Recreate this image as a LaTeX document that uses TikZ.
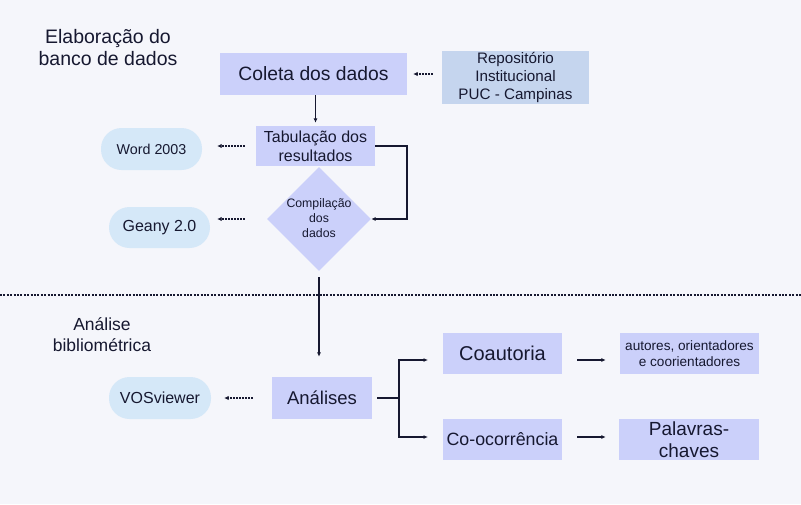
\documentclass[tikz,border=0pt]{standalone}
\usepackage{fontspec}
\setmainfont{Liberation Sans}
\usetikzlibrary{arrows.meta,shapes.geometric,calc}
\definecolor{bgc}{RGB}{245,246,251}
\definecolor{boxc}{RGB}{203,208,250}
\definecolor{repoc}{RGB}{197,213,238}
\definecolor{pillc}{RGB}{213,232,248}
\definecolor{txt}{RGB}{22,24,48}
\tikzset{
  box/.style={fill=boxc, inner sep=0pt, text=txt, align=center},
  repobox/.style={fill=repoc, inner sep=0pt, text=txt, align=center},
  pill/.style={fill=pillc, inner sep=0pt, text=txt, align=center, rounded corners=20.5pt},
  lbl/.style={text=txt, align=center, inner sep=0pt},
  arr/.style={draw=txt, line width=1.2pt, -{Latex[length=4.5pt,width=4pt]}},
  dotarr/.style={draw=txt, line width=1.4pt, dash pattern=on 1.6pt off 1.4pt, -{Latex[length=4.5pt,width=4.5pt]}},
  sepline/.style={draw=txt, line width=1.6pt, dash pattern=on 2pt off 1.4pt},
  ln/.style={draw=txt, line width=1.2pt}
}
\begin{document}
\begin{tikzpicture}[x=1pt,y=-1pt]
\fill[bgc] (0,0) rectangle (801,504);
\useasboundingbox (0,0) rectangle (801,504);

% section labels
\node[lbl, font=\fontsize{19.5}{22}\selectfont] (t1) at (108,48) {Elaboração do\\banco de dados};
\node[lbl, font=\fontsize{17.5}{21}\selectfont] (t2) at (102,335) {Análise\\bibliométrica};

% top part
\node[box, minimum width=187pt, minimum height=42pt, font=\fontsize{19.3}{23}\selectfont] (coleta) at (313.5,74) {Coleta dos dados};
\node[repobox, minimum width=147pt, minimum height=53pt, font=\fontsize{15.2}{18}\selectfont] (repo) at (515.5,77.5) {Repositório\\Institucional\\PUC - Campinas};
\node[box, minimum width=119pt, minimum height=40pt, font=\fontsize{16}{19}\selectfont] (tab) at (315.5,146) {Tabulação dos\\resultados};
\node[diamond, fill=boxc, inner sep=0pt, minimum width=104pt, minimum height=104pt] (comp) at (319,219) {};
\node[lbl, font=\fontsize{12.3}{15}\selectfont] (comptext) at (319,218) {Compilação\\dos\\dados};
\node[pill, minimum width=101pt, minimum height=42pt, font=\fontsize{14.3}{17}\selectfont] (word) at (151.5,149) {Word 2003};
\node[pill, minimum width=101pt, minimum height=41pt, font=\fontsize{16}{19}\selectfont] (geany) at (159.5,227.5) {Geany 2.0};

% bottom part
\node[box, minimum width=100pt, minimum height=42pt, font=\fontsize{18.5}{22}\selectfont] (anal) at (322,398) {Análises};
\node[pill, minimum width=102pt, minimum height=42pt, font=\fontsize{16}{19}\selectfont] (vos) at (160,398) {VOSviewer};
\node[box, minimum width=119pt, minimum height=41pt, font=\fontsize{20}{24}\selectfont] (coa) at (502.5,353.5) {Coautoria};
\node[box, minimum width=119pt, minimum height=41pt, font=\fontsize{17.8}{21}\selectfont] (coo) at (502.5,439.5) {Co-ocorrência};
\node[box, minimum width=139pt, minimum height=41pt, font=\fontsize{13.6}{16}\selectfont] (aut) at (689.5,353.5) {autores, orientadores\\e coorientadores};
\node[box, minimum width=140pt, minimum height=41pt, font=\fontsize{19}{22}\selectfont] (pal) at (689,439.5) {Palavras-\\chaves};

% separator
\coordinate (sepL) at (0,295);
\coordinate (sepR) at (801,295);
\draw[sepline] (sepL) -- (sepR);

% connectors
\draw[dotarr, shorten <=9pt, shorten >=6pt] (repo.west |- coleta.east) -- (coleta.east);
\draw[arr, shorten >=3pt] (tab.north |- coleta.south) -- (tab.north);
\draw[dotarr, shorten <=11pt, shorten >=15pt] (tab.west) -- (word.east |- tab.west);
\draw[dotarr, shorten <=22pt, shorten >=7pt] (comp.west) -- (geany.east |- comp.west);
\coordinate (turn) at (407,146);
\draw[arr] (tab.east) -- (turn) |- (comp.east);
\draw[arr, shorten <=6pt, shorten >=20pt] (comp.south) -- (comp.south |- anal.north);
\draw[dotarr, shorten <=19pt, shorten >=13pt] (anal.west) -- (vos.east |- anal.west);
\coordinate (br) at (399,398);
\coordinate (ca) at (428,360);
\coordinate (cb) at (428,437);
\draw[ln, shorten <=5pt] (anal.east) -- (br);
\draw[arr] (br) |- (ca);
\draw[arr] (br) |- (cb);
\draw[arr, shorten <=15pt, shorten >=14pt] ([yshift=-6.5pt]coa.east) -- ([yshift=-6.5pt]aut.west);
\draw[arr, shorten <=15pt, shorten >=13pt] ([yshift=2.5pt]coo.east) -- ([yshift=2.5pt]pal.west);
\end{tikzpicture}
\end{document}
